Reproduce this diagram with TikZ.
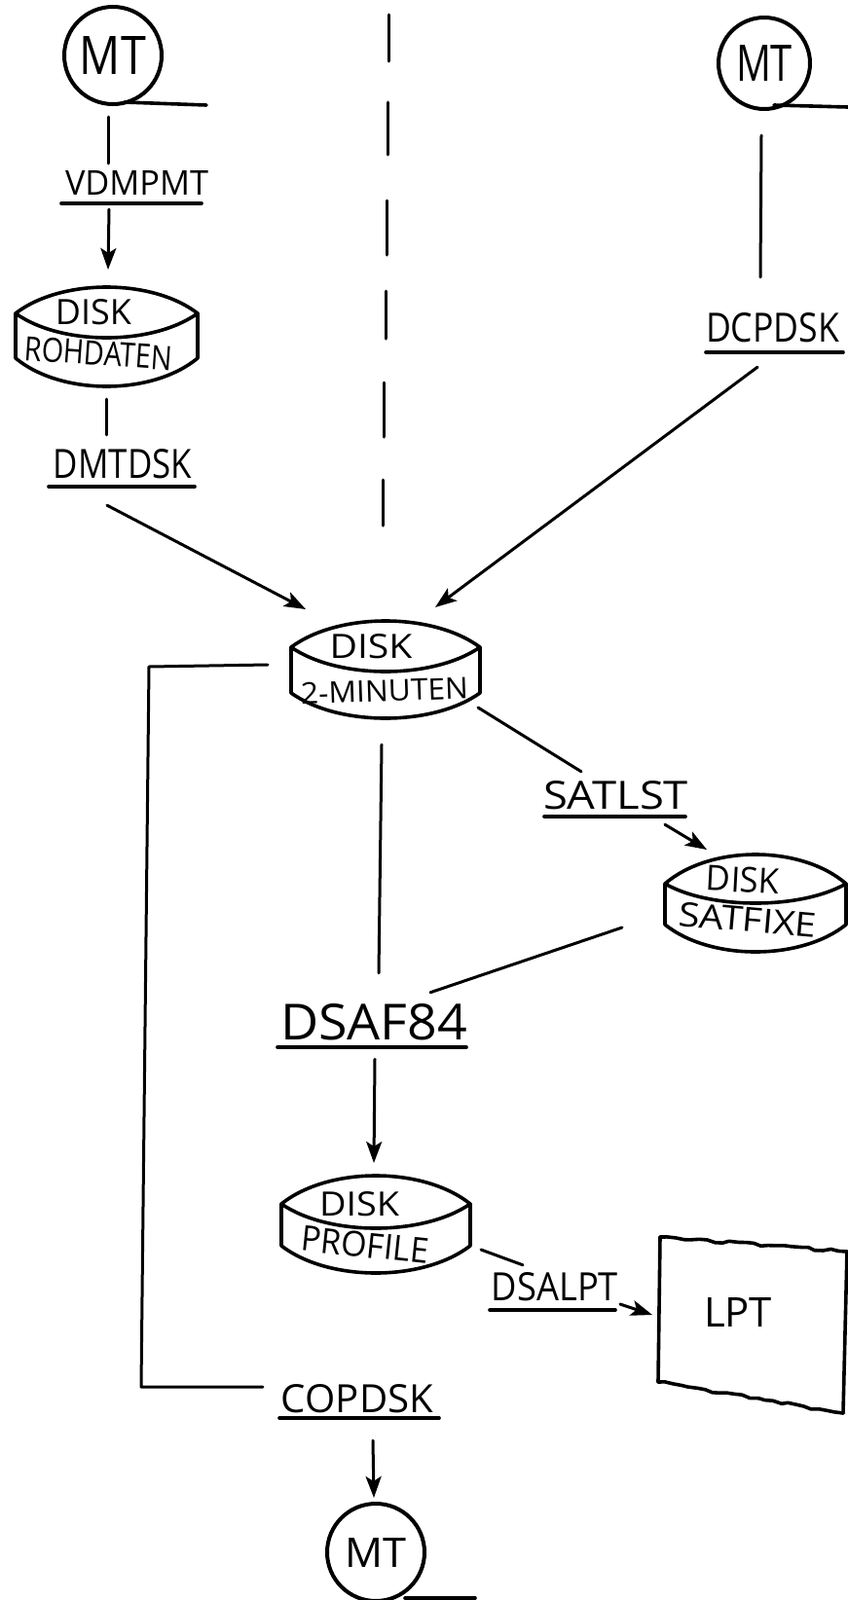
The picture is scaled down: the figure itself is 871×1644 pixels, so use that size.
\documentclass[tikz,border=0pt]{standalone}
\usepackage{graphicx}
\usepackage{fontspec}
\setmainfont{Open Sans}
\usetikzlibrary{arrows.meta,decorations.pathmorphing}
\newcommand\fitt[3]{\resizebox{\dimexpr#1pt/2\relax}{\dimexpr#2pt/2\relax}{#3}}
\tikzset{
  x=0.5pt,y=-0.5pt,
  conn/.style={line width=1.5pt,line cap=round,line join=round},
  arr/.style={conn,-{Stealth[length=11pt,width=8pt,inset=2.5pt]}},
  ink/.style={line width=1.8pt,line join=round,line cap=round},
  lab/.style={inner sep=0pt,outer sep=0pt,text=black},
  tape/.style={circle,draw,line width=2pt,inner sep=0pt,outer sep=0pt,minimum size=(#1)*0.5pt},
  holder/.style 2 args={rectangle,inner sep=0pt,outer sep=0pt,minimum width=(#1)*0.5pt,minimum height=(#2)*0.5pt},
}
% name, left x, right x, top y, corner y, lens bottom y, lower corner y, bottom y
\newcommand\diskshape[8]{%
  \node[holder={#3-#2}{#8-#4}] (#1) at ({(#2+#3)/2},{(#4+#8)/2}) {};
  \draw[ink] (#2,#5) .. controls ({#2+0.25*(#3-#2)},{#5+(#4-#5)/0.75}) and ({#2+0.75*(#3-#2)},{#5+(#4-#5)/0.75}) .. (#3,#5)
     .. controls ({#2+0.75*(#3-#2)},{#5+(#6-#5)/0.75}) and ({#2+0.25*(#3-#2)},{#5+(#6-#5)/0.75}) .. cycle;
  \draw[ink] (#2,#5) -- (#2,#7) .. controls ({#2+0.25*(#3-#2)},{#7+(#8-#7)/0.75}) and ({#2+0.75*(#3-#2)},{#7+(#8-#7)/0.75}) .. (#3,#7) -- (#3,#5);
}
\begin{document}
\begin{tikzpicture}
\useasboundingbox (0,0) rectangle (871,1644);
\fill[white] (0,0) rectangle (871,1644);

% centre dashed divider
\draw[conn] (399,15) -- (399,63);
\draw[conn] (398,105) -- (398,159);
\draw[conn] (397,206) -- (397,262);
\draw[conn] (396,299) -- (396,348);
\draw[conn] (394,393) -- (394,449);
\draw[conn] (393,493) -- (393,540);

% tapes
\node[tape=100] (mt1) at (116,57) {\fitt{68}{39}{MT}};
\draw[ink] ([shift={(12,-2)}]mt1.south) -- (212,108);
\node[tape=94] (mt2) at (785,65) {\fitt{58}{37}{MT}};
\draw[ink] ([shift={(10,-4)}]mt2.south) -- (871,110);
\node[tape=100] (mt3) at (386,1595) {\fitt{63}{30}{MT}};
\draw[ink] ([shift={(30,-3)}]mt3.south) -- (488,1642);

% labels
\node[lab] (vdm) at (140.5,187.5) {\fitt{147}{25}{VDMPMT}};
\draw[ink] (63,209) -- (207,209);
\node[lab] (dmt) at (126,477) {\fitt{142}{30}{DMTDSK}};
\draw[ink] (50,500) -- (200,500);
\node[lab] (dcp) at (793.5,337) {\fitt{137}{30}{DCPDSK}};
\draw[ink] (725,362) -- (866,362);
\node[lab] (sat) at (632.5,817.5) {\fitt{149}{29}{SATLST}};
\draw[ink] (559,839) -- (704,839);
\node[lab] (dsaf) at (384,1050.5) {\fitt{192}{37}{DSAF84}};
\draw[ink] (285,1076) -- (479,1076);
\node[lab] (dsalpt) at (570,1322.5) {\fitt{130}{29}{DSALPT}};
\draw[ink] (503,1346) -- (632,1346);
\node[lab] (cop) at (367,1437.5) {\fitt{156}{29}{COPDSK}};
\draw[ink] (287,1457) -- (451,1457);

% disks
\diskshape{d1}{16}{203}{295}{322}{347}{368}{397}
\node[lab] (d1a) at (96,321) {\fitt{78}{26}{DISK}};
\node[lab,rotate=-4] (d1b) at (101,363) {\fitt{152}{25}{ROHDATEN}};
\diskshape{d2}{299}{493}{638}{665}{690}{712}{738}
\node[lab] (d2a) at (381,664) {\fitt{85}{25}{DISK}};
\node[lab,rotate=2] (d2b) at (395,710) {\fitt{172}{22}{2-MINUTEN}};
\diskshape{d3}{683}{869}{878}{908}{928}{950}{978}
\node[lab,rotate=-3] (d3a) at (763,904) {\fitt{75}{26}{DISK}};
\node[lab,rotate=-5] (d3b) at (768,945) {\fitt{142}{25}{SATFIXE}};
\diskshape{d4}{289}{483}{1208}{1237}{1262}{1280}{1308}
\node[lab] (d4a) at (369,1237) {\fitt{82}{25}{DISK}};
\node[lab,rotate=-6] (d4b) at (375,1279) {\fitt{131}{26}{PROFILE}};

% printer
\node[holder={194}{181}] (lpt) at (773,1361.5) {};
\draw[ink,decorate,decoration={random steps,segment length=4pt,amplitude=0.7pt}] (678,1271) -- (870,1286);
\draw[ink,decorate,decoration={random steps,segment length=4pt,amplitude=0.7pt}] (676,1420) -- (866,1452);
\draw[ink] (678,1271) -- (676,1420);
\draw[ink] (870,1286) -- (866,1452);
\node[lab] (lptt) at (758,1348) {\fitt{70}{30}{LPT}};

% connectors
\draw[conn] ([shift={(-5,13)}]mt1.south) -- ([shift={(-29.5,-7)}]vdm.north);
\draw[arr] ([shift={(-28.5,15)}]vdm.south) -- ([shift={(1.5,-18)}]d1.north);
\draw[conn] ([shift={(-.5,13)}]d1.south) -- ([shift={(-17,-15)}]dmt.north);
\draw[arr] ([shift={(-16,27)}]dmt.south) -- ([shift={(-82,-12)}]d2.north);
\draw[conn] ([shift={(-3,27)}]mt2.south) -- ([shift={(-12.5,-37)}]dcp.north);
\draw[arr] ([shift={(-15.5,25)}]dcp.south) -- ([shift={(51,-14)}]d2.north);
\draw[conn] ([shift={(-2,-11)}]d2.south east) -- ([shift={(-35.5,-10)}]sat.north);
\draw[arr] ([shift={(50.5,15)}]sat.south) -- ([shift={(-50,-5)}]d3.north);
\draw[conn] ([shift={(-44,25)}]d3.west) -- ([shift={(58,-12)}]dsaf.north);
\draw[conn] ([shift={(-4,27)}]d2.south) -- ([shift={(5,-32)}]dsaf.north);
\draw[arr] ([shift={(1,19)}]dsaf.south) -- ([shift={(-2,-13)}]d4.north);
\draw[conn] ([shift={(11,26)}]d4.east) -- ([shift={(-33,-8)}]dsalpt.north);
\draw[arr] ([shift={(2,17.5)}]dsalpt.east) -- ([shift={(-6,-10.5)}]lpt.west);
\draw[conn] ([shift={(-24,-5)}]d2.west) -- (153,685) -- (145,1425) -- ([shift={(-19,-12.5)}]cop.west);
\draw[arr] ([shift={(16,28)}]cop.south) -- ([shift={(-2,-6)}]mt3.north);
\end{tikzpicture}
\end{document}
